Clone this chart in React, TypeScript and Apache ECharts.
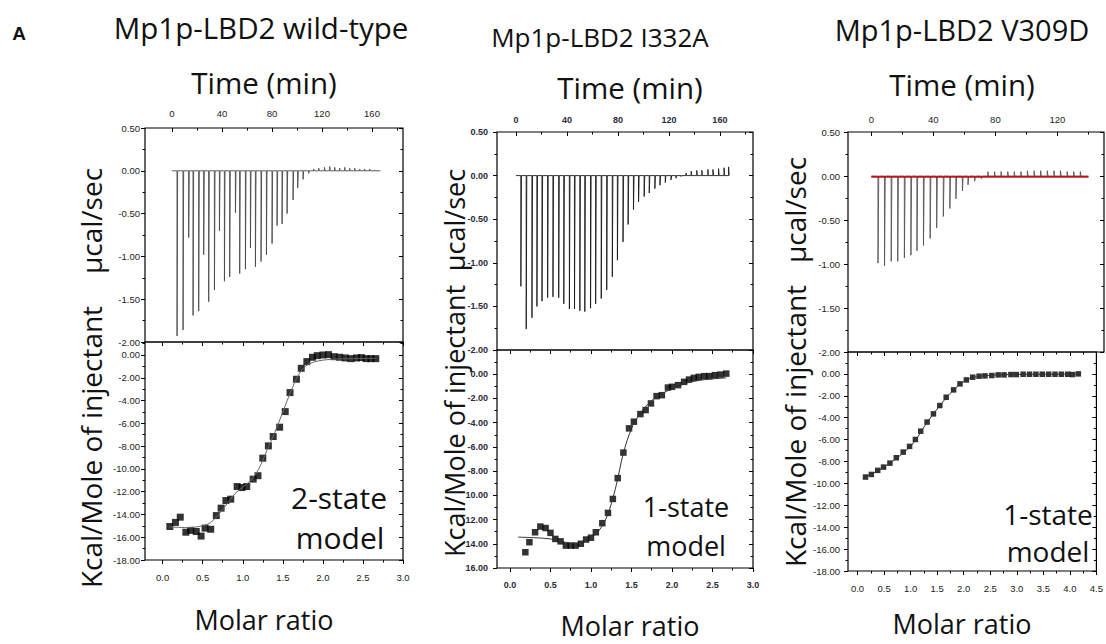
import { useEffect, useRef } from 'react';
import * as echarts from 'echarts';

// ---------- Panel 1: Mp1p-LBD2 wild-type ----------
const p1InjTime = [4, 8.8, 13.3, 16.8, 21.3, 25.3, 29.3, 33.9, 37.9, 41.9, 46.1, 50.7, 54.1, 58.7, 62.7, 66.7, 71.2, 75.5, 80, 84, 88, 92, 96.8, 100.5, 104.8, 109.3, 113.3, 117.3, 121.9, 126.1, 130.1, 134.1, 138.1, 142.1, 146.1, 150.1, 154.1, 158.1, 162.1];
const p1InjPeak = [-1.93, -1.86, -0.78, -1.69, -1.64, -0.98, -1.53, -1.39, -0.7, -1.29, -1.24, -0.49, -1.2, -1.15, -0.9, -1.12, -1.06, -0.98, -0.85, -0.64, -0.62, -0.5, -0.34, -0.2, -0.1, -0.03, 0.02, 0.03, 0.04, 0.05, 0.04, 0.03, 0.04, 0.03, 0.03, 0.02, 0.02, 0.02, 0.01];
const p1RunEnd = 166.7;
const p1Ratio = [0.09, 0.16, 0.22, 0.29, 0.35, 0.42, 0.48, 0.53, 0.6, 0.67, 0.73, 0.79, 0.85, 0.93, 0.99, 1.05, 1.13, 1.19, 1.25, 1.32, 1.38, 1.46, 1.53, 1.59, 1.67, 1.73, 1.8, 1.87, 1.93, 2.0, 2.07, 2.14, 2.21, 2.28, 2.35, 2.42, 2.48, 2.54, 2.6, 2.66];
const p1Heat = [-15.06, -14.7, -14.24, -15.56, -15.4, -15.5, -15.9, -15.2, -15.3, -14.1, -13.45, -12.78, -12.66, -11.55, -11.64, -11.55, -10.9, -10.6, -9.06, -7.98, -7.16, -6.34, -4.97, -3.3, -2.13, -1.17, -0.58, -0.2, -0.06, 0.0, 0.03, -0.15, -0.2, -0.26, -0.32, -0.26, -0.23, -0.32, -0.32, -0.32];
const p1FitRatio = [0.09, 0.3, 0.5, 0.6, 0.7, 0.8, 0.9, 1.0, 1.1, 1.2, 1.3, 1.4, 1.5, 1.6, 1.7, 1.8, 1.9, 2.0, 2.2, 2.66];
const p1FitHeat = [-15.1, -15.15, -15.0, -14.7, -14.0, -13.1, -12.2, -11.6, -11.0, -10.0, -8.4, -6.8, -5.0, -3.2, -1.7, -0.9, -0.6, -0.45, -0.35, -0.3];

// ---------- Panel 2: Mp1p-LBD2 I332A ----------
const p2InjTime = [3.7, 7.9, 12.4, 16.3, 20.3, 24.7, 28.9, 33.4, 37.4, 41.8, 45.8, 50, 53.9, 58.4, 62.4, 66.8, 71.1, 75.5, 79.5, 83.9, 87.9, 92.1, 96.1, 100.5, 104.5, 108.9, 112.9, 117.1, 121.6, 125.5, 129.5, 133.4, 137.4, 141.8, 145.8, 150.5, 154.5, 158.9, 163.2, 166.8];
const p2InjPeak = [-1.27, -1.76, -1.63, -1.5, -1.44, -1.4, -1.39, -1.4, -1.47, -1.53, -1.53, -1.55, -1.56, -1.52, -1.47, -1.41, -1.31, -1.16, -0.97, -0.76, -0.56, -0.39, -0.3, -0.24, -0.2, -0.15, -0.11, -0.08, -0.05, -0.03, -0.01, 0.03, 0.05, 0.06, 0.06, 0.07, 0.07, 0.08, 0.09, 0.1];
const p2RunEnd = 167;
const p2Ratio = [0.19, 0.24, 0.31, 0.375, 0.44, 0.5, 0.56, 0.625, 0.69, 0.75, 0.81, 0.875, 0.94, 1.0, 1.06, 1.14, 1.21, 1.27, 1.33, 1.4, 1.47, 1.53, 1.61, 1.675, 1.74, 1.81, 1.875, 1.95, 2.0, 2.075, 2.15, 2.21, 2.27, 2.33, 2.4, 2.46, 2.53, 2.6, 2.67];
const p2Heat = [-14.7, -13.87, -13.05, -12.58, -12.7, -13.1, -13.6, -13.8, -14.15, -14.15, -14.15, -14.0, -13.65, -13.5, -13.05, -12.3, -11.45, -10.3, -8.58, -6.47, -4.47, -3.92, -3.29, -2.96, -2.41, -1.81, -1.73, -1.1, -1.04, -0.9, -0.63, -0.44, -0.3, -0.22, -0.16, -0.16, -0.08, -0.03, 0.05];
const p2FitRatio = [0.1, 0.3, 0.5, 0.7, 0.8, 0.9, 1.0, 1.1, 1.2, 1.3, 1.35, 1.4, 1.5, 1.6, 1.7, 1.8, 2.0, 2.2, 2.4, 2.67];
const p2FitHeat = [-13.45, -13.5, -13.6, -13.9, -14.0, -13.85, -13.5, -12.9, -11.7, -9.5, -8.0, -6.5, -4.5, -3.3, -2.5, -1.9, -1.2, -0.7, -0.45, -0.3];

// ---------- Panel 3: Mp1p-LBD2 V309D ----------
const p3InjTime = [4.3, 8.5, 12.8, 17, 21.3, 25.5, 29.4, 33.6, 37.9, 42.1, 46.4, 50.6, 54.5, 58.7, 62.3, 66.6, 70.9, 75.1, 79.4, 83.6, 87.9, 92.1, 96.4, 100.6, 104.9, 109.1, 113.4, 117.7, 121.9, 126.2, 130.4, 134.7];
const p3InjPeak = [-0.99, -1.02, -0.97, -0.97, -0.93, -0.9, -0.85, -0.79, -0.71, -0.59, -0.46, -0.37, -0.26, -0.17, -0.1, -0.06, -0.03, 0.05, 0.05, 0.05, 0.05, 0.05, 0.05, 0.06, 0.06, 0.06, 0.06, 0.06, 0.06, 0.05, 0.05, 0.05];
const p3RunEnd = 140;
const p3Ratio = [0.15, 0.26, 0.38, 0.49, 0.61, 0.73, 0.86, 0.98, 1.09, 1.19, 1.31, 1.43, 1.55, 1.67, 1.81, 1.93, 2.05, 2.17, 2.29, 2.4, 2.53, 2.65, 2.76, 2.89, 2.99, 3.12, 3.24, 3.36, 3.48, 3.6, 3.72, 3.84, 3.96, 4.05, 4.16];
const p3Heat = [-9.42, -9.18, -8.81, -8.51, -8.15, -7.66, -7.14, -6.62, -5.99, -5.23, -4.4, -3.65, -2.89, -2.13, -1.46, -0.91, -0.55, -0.3, -0.21, -0.18, -0.15, -0.09, -0.09, -0.06, -0.06, -0.03, -0.03, -0.03, -0.03, -0.03, -0.03, -0.03, -0.03, -0.06, 0.0];
const p3FitRatio = [0.15, 0.5, 1.0, 1.3, 1.5, 1.8, 2.0, 2.2, 2.5, 3.0, 4.16];
const p3FitHeat = [-9.4, -8.5, -6.6, -4.5, -3.2, -1.5, -0.7, -0.3, -0.12, -0.05, -0.02];

// ---------- Tick labels ----------
const timeLabels = [0, 40, 80, 120, 160];
const timeLabels3 = [0, 40, 80, 120];
const timeMinor = [20, 60, 100, 140, 180];
const powerLabels = [0.5, 0, -0.5, -1, -1.5, -2];
const powerMinor = [0.25, -0.25, -0.75, -1.25, -1.75];
const heatLabels18 = [0, -2, -4, -6, -8, -10, -12, -14, -16, -18];
const heatLabels16 = [0, -2, -4, -6, -8, -10, -12, -14, -16];
const heatMinor = [1, -1, -3, -5, -7, -9, -11, -13, -15, -17];
const ratioLabels3 = [0, 0.5, 1, 1.5, 2, 2.5, 3];
const ratioLabels45 = [0, 0.5, 1, 1.5, 2, 2.5, 3, 3.5, 4, 4.5];
const ratioMinor3 = [0.25, 0.75, 1.25, 1.75, 2.25, 2.75];
const ratioMinor45 = [0.25, 0.75, 1.25, 1.75, 2.25, 2.75, 3.25, 3.75, 4.25];

const FONT = '"Open Sans", "Noto Sans", sans-serif';
const TICK_FONT = '"Liberation Sans", Arial, sans-serif';

function buildOption() {
  const grids: any[] = [];
  const xAxes: any[] = [];
  const yAxes: any[] = [];
  const series: any[] = [];

  function addAxes(list: any[], base: any, major: number[], minor: number[], labels: number[] | null, inside: boolean, fmt: any, margin: number, bold = false) {
    const common = { type: 'value', ...base, axisLine: { show: false, onZero: false }, splitLine: { show: false } };
    const idx = list.length;
    list.push({
      ...common,
      axisTick: { show: true, inside, length: 4, customValues: major, lineStyle: { color: '#000', width: 1 } },
      axisLabel: labels
        ? {
            show: true, customValues: labels, formatter: fmt, margin,
            fontSize: bold ? 9 : 9.5, fontWeight: bold ? 'bold' : 'normal', color: bold ? '#2a2a3a' : '#222', fontFamily: TICK_FONT,
          }
        : { show: false },
    });
    list.push({
      ...common,
      axisTick: { show: true, inside, length: 2.5, customValues: minor, lineStyle: { color: '#000', width: 1 } },
      axisLabel: { show: false },
    });
    return idx;
  }

  const fmt2 = (v: number) => v.toFixed(2);
  const fmt1 = (v: number) => v.toFixed(1);
  const fmtT = (v: number) => String(v);
  const fmtCut = (v: number) => (v <= -10 ? Math.abs(v).toFixed(2) : v.toFixed(2));

  function spikes(times: number[], peaks: number[], end: number) {
    const pts: number[][] = [[0, 0]];
    times.forEach((t, i) => {
      pts.push([t, 0], [t + 0.05, peaks[i]], [t + 0.5, 0]);
    });
    pts.push([end, 0]);
    return pts;
  }

  type Panel = {
    left: number; width: number; topT: number; topH: number; botT: number; botH: number;
    tMin: number; tMax: number; tLabels: number[];
    rMin: number; rMax: number; rLabels: number[]; rMinor: number[];
    hMin: number; hMax: number; hLabels: number[]; hFmt: any;
    yMargin: number; tMargin: number; bold: boolean;
    inj: number[]; peak: number[]; runEnd: number; red: boolean; rawColor: string;
    ratio: number[]; heat: number[]; fitR: number[]; fitH: number[]; sym: number; fitColor: string;
  };

  const panels: Panel[] = [
    {
      left: 145, width: 258, topT: 128, topH: 214, botT: 342, botH: 218,
      tMin: -21.6, tMax: 184.8, tLabels: timeLabels,
      rMin: -0.22, rMax: 3.0, rLabels: ratioLabels3, rMinor: ratioMinor3,
      hMin: -18, hMax: 1.14, hLabels: heatLabels18, hFmt: fmt2,
      yMargin: 5, tMargin: 10, bold: false,
      inj: p1InjTime, peak: p1InjPeak, runEnd: p1RunEnd, red: false, rawColor: '#4a4a4a',
      ratio: p1Ratio, heat: p1Heat, fitR: p1FitRatio, fitH: p1FitHeat, sym: 7, fitColor: '#666',
    },
    {
      left: 497, width: 256, topT: 132, topH: 218, botT: 350, botH: 218,
      tMin: -15, tMax: 186, tLabels: timeLabels,
      rMin: -0.16, rMax: 3.0, rLabels: ratioLabels3, rMinor: ratioMinor3,
      hMin: -16, hMax: 2, hLabels: heatLabels16, hFmt: fmtCut,
      yMargin: 9, tMargin: 8, bold: true,
      inj: p2InjTime, peak: p2InjPeak, runEnd: p2RunEnd, red: false, rawColor: '#1a1a1a',
      ratio: p2Ratio, heat: p2Heat, fitR: p2FitRatio, fitH: p2FitHeat, sym: 6.5, fitColor: '#333',
    },
    {
      left: 848, width: 256, topT: 132, topH: 220, botT: 352, botH: 219,
      tMin: -15, tMax: 150, tLabels: timeLabels3,
      rMin: -0.18, rMax: 4.5, rLabels: ratioLabels45, rMinor: ratioMinor45,
      hMin: -18, hMax: 2, hLabels: heatLabels18, hFmt: fmt2,
      yMargin: 8, tMargin: 8, bold: false,
      inj: p3InjTime, peak: p3InjPeak, runEnd: p3RunEnd, red: true, rawColor: '#555',
      ratio: p3Ratio, heat: p3Heat, fitR: p3FitRatio, fitH: p3FitHeat, sym: 5.5, fitColor: '#333',
    },
  ];

  panels.forEach((p) => {
    // top grid (raw thermogram)
    const gT = grids.length;
    grids.push({ left: p.left, top: p.topT, width: p.width, height: p.topH, show: true, borderColor: '#000', borderWidth: 1.2, backgroundColor: 'transparent' });
    const xT = addAxes(xAxes, { gridIndex: gT, position: 'top', min: p.tMin, max: p.tMax }, p.tLabels, timeMinor, p.tLabels, true, fmtT, p.tMargin, p.bold);
    const yT = addAxes(yAxes, { gridIndex: gT, position: 'left', min: -2, max: 0.5 }, powerLabels, powerMinor, powerLabels, false, fmt2, p.yMargin, p.bold);
    addAxes(yAxes, { gridIndex: gT, position: 'right', min: -2, max: 0.5 }, powerLabels, powerMinor, null, true, null, 0);

    series.push({
      type: 'line', xAxisIndex: xT, yAxisIndex: yT, data: spikes(p.inj, p.peak, p.runEnd),
      showSymbol: false, symbol: 'none', lineStyle: { color: p.rawColor, width: 0.9 }, silent: true,
    });
    if (p.red) {
      series.push({
        type: 'line', xAxisIndex: xT, yAxisIndex: yT, data: [[0, -0.01], [p.runEnd, -0.01]],
        showSymbol: false, symbol: 'none', lineStyle: { color: '#c0141c', width: 1.6 }, silent: true,
      });
    }

    // bottom grid (integrated heats)
    const gB = grids.length;
    grids.push({ left: p.left, top: p.botT, width: p.width, height: p.botH, show: true, borderColor: '#000', borderWidth: 1.2, backgroundColor: 'transparent' });
    const xB = addAxes(xAxes, { gridIndex: gB, position: 'bottom', min: p.rMin, max: p.rMax }, p.rLabels, p.rMinor, p.rLabels, false, fmt1, 12, p.bold);
    addAxes(xAxes, { gridIndex: gB, position: 'top', min: p.rMin, max: p.rMax }, p.rLabels, p.rMinor, null, true, null, 0);
    const yB = addAxes(yAxes, { gridIndex: gB, position: 'left', min: p.hMin, max: p.hMax }, p.hLabels, heatMinor, p.hLabels, false, p.hFmt, p.yMargin, p.bold);
    addAxes(yAxes, { gridIndex: gB, position: 'right', min: p.hMin, max: p.hMax }, p.hLabels, heatMinor, null, true, null, 0);

    series.push({
      type: 'line', xAxisIndex: xB, yAxisIndex: yB, data: p.fitR.map((r, i) => [r, p.fitH[i]]),
      showSymbol: false, symbol: 'none', smooth: 0.35, lineStyle: { color: p.fitColor, width: 1 }, silent: true,
    });
    series.push({
      type: 'scatter', xAxisIndex: xB, yAxisIndex: yB, data: p.ratio.map((r, i) => [r, p.heat[i]]),
      symbol: 'rect', symbolSize: p.sym, itemStyle: { color: '#000' }, silent: true,
    });
  });

  const txt = (text: string, x: number, y: number, size: number, opts: any = {}) => ({
    type: 'text', x, y, rotation: opts.rotation || 0, silent: true,
    style: {
      text, font: `${opts.weight || 'normal'} ${size}px ${opts.family || FONT}`, fill: '#111',
      align: 'center', verticalAlign: 'middle', textAlign: 'center', textVerticalAlign: 'middle',
    },
  });
  const R = Math.PI / 2;

  const graphic = [
    txt('A', 19, 33, 19, { weight: 'bold', family: TICK_FONT }),
    txt('Mp1p-LBD2 wild-type', 261, 27, 29.5),
    txt('Mp1p-LBD2 I332A', 600, 37, 26),
    txt('Mp1p-LBD2 V309D', 962, 29, 29),
    txt('Time (min)', 264, 82, 29.5),
    txt('Time (min)', 630, 87, 29.5),
    txt('Time (min)', 962, 84, 29.5),
    txt('Molar ratio', 264, 619, 27),
    txt('Molar ratio', 630, 625, 27),
    txt('Molar ratio', 962, 623, 27),
    txt('µcal/sec', 91, 221, 28, { rotation: R }),
    txt('Kcal/Mole of injectant', 91, 447, 28, { rotation: R }),
    txt('µcal/sec', 454, 220, 27, { rotation: R }),
    txt('Kcal/Mole of injectant', 454, 421, 27, { rotation: R }),
    txt('µcal/sec', 795, 210, 28, { rotation: R }),
    txt('Kcal/Mole of injectant', 795, 426, 28, { rotation: R }),
    txt('2-state', 339, 497, 30),
    txt('model', 340, 537, 30),
    txt('1-state', 686, 506, 27),
    txt('model', 686, 545, 27),
    txt('1-state', 1048, 514, 28),
    txt('model', 1048, 551, 28),
  ];

  return {
    animation: false,
    backgroundColor: '#fff',
    grid: grids,
    xAxis: xAxes,
    yAxis: yAxes,
    series,
    graphic,
  };
}

export default function App() {
  const ref = useRef<HTMLDivElement>(null);
  useEffect(() => {
    const chart = echarts.init(ref.current!, null, { renderer: 'svg' });
    chart.setOption(buildOption() as any);
    return () => chart.dispose();
  }, []);
  return (
    <div
      ref={ref}
      style={{ position: 'fixed', left: 0, top: 0, width: 1106, height: 644, background: '#fff' }}
    />
  );
}
